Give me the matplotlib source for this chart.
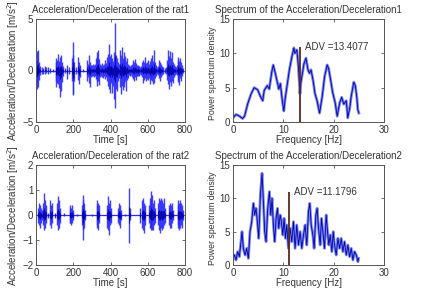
import matplotlib
matplotlib.use("Agg")
import matplotlib.pyplot as plt
import numpy as np

plt.rcParams['font.family'] = ['Liberation Sans', 'DejaVu Sans']
plt.rcParams['font.size'] = 7

# ---------------- data ----------------
# rat1 acceleration envelope (time [s], upper, lower)
t1 = [5, 8, 12, 16, 20, 30, 40, 50, 55, 65, 75, 90,
      105, 110, 115, 120, 125, 130, 135, 140, 145, 155, 165, 178,
      192, 196, 200, 204, 215, 225, 230, 235, 250,
      275, 280, 285, 290, 295, 300, 305, 310, 315, 320, 325, 330, 335, 340,
      345, 350, 355, 360, 365, 370, 375, 380, 385, 390, 395, 400, 405, 410,
      415, 420, 425, 430, 435, 440, 445, 450, 455, 460, 465, 470, 475, 480,
      485, 490, 495, 500, 505, 510, 515, 520, 525, 530, 535, 540, 545, 550,
      555, 560, 565, 570, 575, 580, 585, 590, 595, 600, 605, 610, 615, 620,
      625, 630, 635, 640, 645, 650, 655, 660, 665, 670, 675, 680, 690, 700,
      705, 710, 715, 720, 725, 730, 735, 740, 745, 750, 755, 760, 765, 770,
      775, 780, 785, 790]
hi1 = [1.9, 1.0, 2.0, 0.8, 0.4, 0.3, 0.25, 0.4, 0.3, 0.3, 0.2, 0.1,
       0.8, 1.2, 1.0, 1.6, 0.9, 1.3, 1.5, 0.8, 0.4, 0.2, 0.5, 0.3,
       1.2, 2.8, 1.5, 0.8, 0.3, 1.3, 0.8, 0.5, 0.1,
       1.0, 0.6, 1.5, 0.8, 0.5, 0.5, 0.6, 0.5, 0.6, 1.2, 1.8, 1.3, 2.0, 1.1,
       0.6, 0.5, 0.7, 0.5, 0.6, 1.0, 0.7, 1.3, 1.6, 2.6, 1.4, 1.0, 1.6, 1.2,
       0.9, 1.8, 4.6, 1.5, 1.2, 0.8, 0.6, 2.0, 1.5, 2.3, 1.2, 1.8, 1.0, 1.4,
       0.9, 1.2, 0.6, 0.5, 0.4, 0.5, 0.6, 1.0, 0.8, 1.1, 0.7, 0.5, 0.4, 0.5,
       0.4, 0.3, 0.4, 0.8, 1.0, 0.8, 1.3, 0.7, 0.8, 1.0, 0.6, 0.9, 1.2, 0.7,
       1.5, 0.9, 2.0, 0.8, 0.5, 0.3, 0.4, 1.0, 0.8, 0.6, 0.4, 0.3, 0.2, 0.3,
       1.0, 2.0, 1.4, 1.9, 1.2, 1.8, 0.8, 0.6, 0.4, 0.3, 0.5, 1.0, 1.3, 0.9,
       1.2, 0.8, 0.5, 0.2]
lo1 = [-1.8, -1.2, -1.6, -0.9, -0.4, -0.3, -0.3, -0.3, -0.2, -0.3, -0.2, -0.1,
       -1.0, -1.6, -1.2, -1.3, -1.7, -2.6, -2.0, -1.1, -0.5, -0.2, -0.8, -0.3,
       -1.0, -2.4, -2.3, -1.0, -0.3, -0.9, -1.3, -0.6, -0.1,
       -1.0, -0.6, -1.2, -1.6, -0.6, -0.5, -0.5, -0.6, -0.5, -0.8, -1.0, -1.5, -1.0, -1.4,
       -0.6, -0.5, -0.6, -0.7, -0.5, -0.8, -0.6, -1.0, -1.5, -1.8, -2.2, -1.2, -1.0, -2.2,
       -1.5, -2.8, -3.6, -1.8, -2.0, -1.0, -0.7, -1.6, -2.3, -1.5, -1.9, -1.2, -1.6, -1.0,
       -2.0, -0.9, -0.7, -0.4, -0.5, -0.4, -0.6, -0.8, -1.0, -0.6, -0.9, -0.5, -0.4, -0.5,
       -0.5, -0.3, -0.4, -0.6, -1.2, -0.9, -0.7, -1.0, -0.8, -0.9, -0.7, -1.3, -0.8, -0.9,
       -1.0, -1.3, -1.2, -0.7, -0.5, -0.3, -0.4, -0.7, -1.0, -0.6, -0.4, -0.3, -0.2, -0.3,
       -0.9, -1.3, -1.8, -1.1, -1.5, -1.0, -1.2, -0.6, -0.4, -0.3, -0.4, -0.9, -1.1, -1.4,
       -0.7, -1.0, -0.5, -0.2]

# rat2 acceleration envelope
t2 = [10, 15, 20, 25, 30, 40, 45, 50, 55, 65, 75, 80, 85, 100, 112, 117, 122, 127,
      150, 180, 185, 190, 195, 200, 220, 245, 250, 255, 260, 265, 300, 325, 330,
      335, 340, 380, 385, 390, 395, 400, 440, 445, 450, 455, 480, 500, 505, 560,
      570, 575, 580, 585, 605, 610, 615, 620, 625, 630, 635, 640, 655, 660, 665,
      670, 675, 680, 685, 690, 715, 720, 725, 730, 735, 760, 765, 770, 775, 780,
      785, 790]
hi2 = [0.3, 0.5, 0.4, 0.3, 0.2, 0.5, 0.9, 0.6, 0.4, 0.1, 0.6, 0.4, 0.5, 0.1, 0.5, 0.75, 0.6, 0.3,
       0.1, 0.3, 0.4, 0.3, 0.4, 0.2, 0.05, 0.4, 0.8, 0.6, 0.5, 0.2, 0.05, 0.4, 0.6,
       0.5, 0.4, 0.4, 0.75, 0.5, 0.6, 0.3, 0.3, 0.5, 0.4, 0.2, 0.05, 1.1, 0.3, 0.3,
       0.6, 0.7, 0.5, 0.4, 0.4, 0.7, 0.95, 0.6, 0.8, 0.5, 0.6, 0.3, 0.5, 0.7, 0.6,
       0.7, 0.6, 0.5, 0.7, 0.3, 0.4, 0.5, 0.4, 0.5, 0.2, 0.4, 0.6, 0.5, 0.6, 0.5,
       0.4, 0.2]
lo2 = [-0.3, -0.4, -0.5, -0.3, -0.2, -0.4, -0.6, -0.5, -0.3, -0.1, -0.4, -0.5, -0.3, -0.1, -0.4, -0.6, -0.5, -0.3,
       -0.05, -0.3, -0.3, -0.4, -0.3, -0.2, -0.05, -0.4, -0.6, -1.0, -0.5, -0.2, -0.05, -0.4, -0.5,
       -0.6, -0.3, -0.5, -0.6, -0.8, -0.4, -0.3, -0.3, -0.4, -0.5, -0.2, -0.05, -1.1, -0.2, -0.3,
       -0.5, -0.6, -0.7, -0.4, -0.3, -0.5, -0.6, -0.5, -0.6, -0.6, -0.4, -0.3, -0.4, -0.6, -0.7,
       -0.5, -0.6, -0.5, -0.4, -0.3, -0.4, -0.5, -0.5, -0.3, -0.2, -0.4, -0.5, -0.6, -0.5, -0.4,
       -0.5, -0.2]

# spectra
f1 = [0, 0.6, 1.3, 1.9, 2.3, 2.9, 3.6, 4.2, 4.9, 5.4, 5.9, 6.2, 6.8, 7.2, 7.7,
      8.0, 8.4, 8.8, 9.1, 9.4, 9.8, 10.1, 10.4, 10.8, 11.2, 11.7, 12.1, 12.3,
      12.7, 13.0, 13.3, 13.5, 14.1, 14.5, 14.9, 15.2, 15.5, 15.9, 16.3, 16.7,
      17.2, 17.7, 18.2, 18.7, 19.0, 19.4, 19.8, 20.3, 20.7, 21.2, 21.6, 22.0,
      22.5, 22.8, 23.2, 23.5, 24.0, 24.3, 24.6, 24.8, 25.0]
p1 = [0.6, 1.1, 0.85, 0.5, 0.85, 2.6, 4.1, 5.0, 4.7, 3.8, 3.1, 4.6, 5.3, 4.8, 7.3,
      8.3, 7.1, 5.8, 4.8, 5.6, 3.1, 1.6, 3.6, 5.6, 7.6, 9.5, 10.8, 10.0,
      10.5, 8.0, 4.1, 5.8, 8.5, 9.3, 7.6, 7.1, 7.6, 6.1, 4.1, 3.1,
      1.3, 3.6, 6.6, 8.3, 7.8, 6.1, 4.3, 2.8, 0.85, 2.8, 3.6, 2.6,
      3.1, 0.6, 2.1, 3.8, 5.8, 5.3, 3.6, 1.8, 1.3]
f2 = [0, 0.27, 0.6, 0.93, 1.26, 1.59, 1.79, 2.06, 2.39, 2.72, 3.05, 3.38, 3.72,
      4.05, 4.31, 4.58, 4.84, 5.11, 5.44, 5.77, 6.04, 6.30, 6.57, 6.90, 7.23,
      7.50, 7.76, 8.03, 8.29, 8.56, 8.83, 9.09, 9.36, 9.62, 9.89, 10.15, 10.42,
      10.68, 11.01, 11.35, 11.68, 12.01, 12.34, 12.67, 13.01, 13.34, 13.67,
      14.00, 14.33, 14.66, 14.99, 15.26, 15.53, 15.86, 16.12, 16.46, 16.72,
      16.99, 17.32, 17.58, 17.92, 18.18, 18.51, 18.78, 19.04, 19.31, 19.64,
      19.91, 20.17, 20.50, 20.84, 21.17, 21.50, 21.83, 22.16, 22.50, 22.83,
      23.16, 23.49, 23.82, 24.15, 24.49, 24.82, 24.95]
p2 = [1.0, 1.5, 0.75, 2.0, 1.25, 3.5, 5.0, 2.5, 1.5, 2.5, 1.0, 5.0, 6.5,
      9.25, 7.5, 8.5, 6.5, 4.0, 10.5, 13.75, 9.5, 5.0, 3.5, 8.5, 11.0,
      7.5, 10.0, 6.0, 3.5, 7.0, 8.5, 5.5, 7.5, 6.5, 4.5, 7.0, 4.0,
      6.0, 2.5, 5.5, 3.5, 6.5, 2.5, 6.0, 3.0, 5.0, 2.5,
      4.5, 6.0, 3.0, 8.0, 9.25, 6.0, 4.5, 2.5, 7.5, 8.5,
      5.5, 3.0, 7.0, 4.5, 2.5, 7.5, 5.0, 3.0, 4.5, 2.0,
      5.0, 3.0, 1.5, 4.0, 2.5, 4.0, 2.0, 3.5, 1.5, 3.0,
      1.25, 2.5, 0.75, 2.0, 1.5, 0.5, 1.0]

adv1 = 13.4077
adv1_h = 10.9
adv2 = 11.1796
adv2_h = 11.0

time_ticks = [0, 200, 400, 600, 800]
freq_ticks = [0, 10, 20, 30]
psd_ticks = [0, 5, 10, 15]
y1_ticks = [-5, 0, 5]
y2_ticks = [-2, -1, 0, 1, 2]

# ---------------- drawing ----------------
W, H = 422, 296
fig = plt.figure(figsize=(W / 100, H / 100), dpi=100)

def px_axes(x0, y0, x1, y1):
    return fig.add_axes([x0 / W, 1 - y1 / H, (x1 - x0) / W, (y1 - y0) / H])

ax1 = px_axes(36, 19, 185, 122)
ax2 = px_axes(233, 19, 384, 122)
ax3 = px_axes(36, 165, 185, 265)
ax4 = px_axes(233, 165, 384, 265)

frame_col = '#555555'
blue = '#2a2aff'
navy = '#0000a0'
txt = '#333333'

def style(ax):
    ax.tick_params(direction='in', length=2.5, width=0.6, top=True, right=True,
                   colors=frame_col, labelcolor=txt, labelsize=7, pad=2)
    for s in ax.spines.values():
        s.set_color(frame_col)
        s.set_linewidth(0.7)

def accel(ax, t, hi, lo, ylim, yt, title):
    t = np.asarray(t); hi = np.asarray(hi); lo = np.asarray(lo)
    ax.hlines(0, 0, t.max(), color=blue, lw=0.9)
    ax.vlines(t, lo, hi, color=blue, lw=1.0, alpha=0.9)
    ax.vlines(t, lo * 0.3, hi * 0.3, color=navy, lw=0.8, alpha=0.8)
    ax.set_xlim(0, 800)
    ax.set_ylim(*ylim)
    ax.set_xticks(time_ticks)
    ax.set_yticks(yt)
    ax.set_title(title, fontsize=7, pad=4.5, color=txt)
    ax.set_xlabel('Time [s]', labelpad=0, color=txt)
    ax.set_ylabel('Acceleration/Deceleration [m/s$^2$]', labelpad=1, color=txt)
    style(ax)

def spectrum(ax, f, p, adv, advh, title):
    ax.plot(f, p, color='#4a5aee', lw=2.0, alpha=0.75)
    ax.plot(f, p, color=navy, lw=0.6)
    ax.vlines(adv, 0, advh, color='#5a2a1a', lw=1.3)
    ax.text(adv + 0.9, advh, 'ADV =%.4f' % adv, fontsize=7, va='center',
            ha='left', color=txt)
    ax.set_xlim(0, 30)
    ax.set_ylim(0, 15)
    ax.set_xticks(freq_ticks)
    ax.set_yticks(psd_ticks)
    ax.set_title(title, fontsize=7, pad=4.5, color=txt)
    ax.set_xlabel('Frequency [Hz]', labelpad=0, color=txt)
    ax.set_ylabel('Power spectrum density', color=txt, fontsize=6.3)
    ax.yaxis.set_label_coords(-0.105, 0.47)
    style(ax)

accel(ax1, t1, hi1, lo1, (-5, 5), y1_ticks, 'Acceleration/Deceleration of the rat1')
accel(ax3, t2, hi2, lo2, (-2, 2), y2_ticks, 'Acceleration/Deceleration of the rat2')
spectrum(ax2, f1, p1, adv1, adv1_h, 'Spectrum of the Acceleration/Deceleration1')
spectrum(ax4, f2, p2, adv2, adv2_h, 'Spectrum of the Acceleration/Deceleration2')

fig.savefig('out.png', dpi=100)
